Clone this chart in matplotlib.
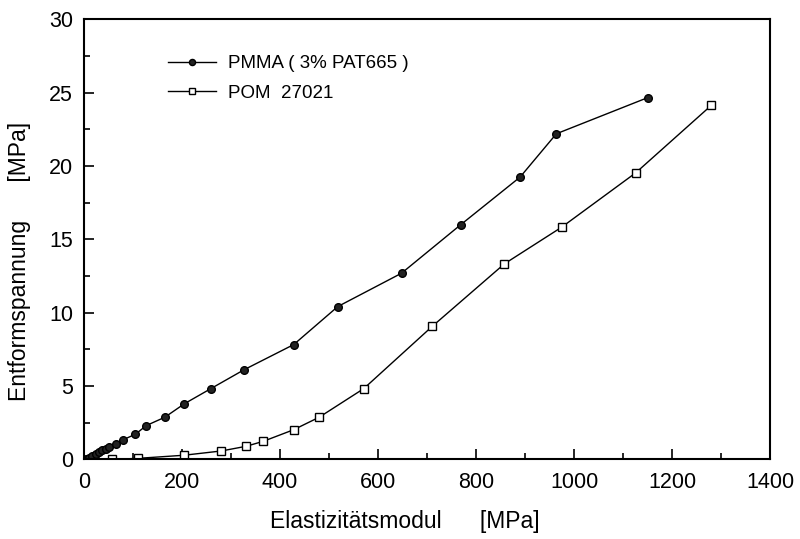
import matplotlib
matplotlib.use('Agg')
import matplotlib.pyplot as plt
from matplotlib.ticker import MultipleLocator

plt.rcParams['font.family'] = ['Liberation Sans', 'DejaVu Sans']

# PMMA (3% PAT665)
pmma_x = [5, 10, 17, 24, 31, 37, 44, 51, 65, 80, 105, 127, 165, 205, 259, 327, 428,
          518, 648, 769, 890, 964, 1151]
pmma_y = [0.04, 0.13, 0.24, 0.35, 0.49, 0.62, 0.74, 0.87, 1.06, 1.35, 1.72, 2.31, 2.88,
          3.80, 4.83, 6.12, 7.83, 10.42, 12.69, 16.0, 19.24, 22.19, 24.66]

# POM 27021
pom_x = [58, 111, 204, 280, 331, 366, 428, 480, 571, 711, 858, 975, 1126, 1280]
pom_y = [0.0, 0.08, 0.29, 0.58, 0.90, 1.24, 2.03, 2.88, 4.83, 9.08, 13.33, 15.83, 19.53, 24.12]

fig = plt.figure(figsize=(8, 5.39), dpi=100)
ax = fig.add_axes([0.105, 0.1475, 0.8575, 0.817])

ax.plot(pmma_x, pmma_y, color='black', linewidth=1, marker='o', markersize=5.5,
        markerfacecolor='#222222', markeredgecolor='black', label='PMMA ( 3% PAT665 )')
ax.plot(pom_x, pom_y, color='black', linewidth=1, marker='s', markersize=5.5,
        markerfacecolor='white', markeredgecolor='black', label='POM  27021')

ax.set_xlim(0, 1400)
ax.set_ylim(0, 30)
ax.xaxis.set_major_locator(MultipleLocator(200))
ax.xaxis.set_minor_locator(MultipleLocator(100))
ax.yaxis.set_major_locator(MultipleLocator(5))
ax.yaxis.set_minor_locator(MultipleLocator(2.5))
ax.tick_params(which='both', direction='in', top=False, right=False, labelsize=15.5, width=1.2)
ax.tick_params(which='major', length=7)
ax.tick_params(which='minor', length=4)
ax.tick_params(axis='x', pad=9)
ax.tick_params(axis='y', pad=8)
for s in ax.spines.values():
    s.set_linewidth(1.5)

fig.text(0.506, 0.012, 'Elastizitätsmodul      [MPa]', ha='center', va='bottom', fontsize=16.5)
fig.text(0.01, 0.515, 'Entformspannung      [MPa]', ha='left', va='center', rotation=90, fontsize=16.5)

leg = ax.legend(loc='upper left', bbox_to_anchor=(0.122, 0.918), frameon=False, fontsize=13.5,
                handlelength=2.6, labelspacing=0.65, markerscale=0.8, handletextpad=0.6,
                borderpad=0, borderaxespad=0)

fig.savefig('out.png', dpi=100)
